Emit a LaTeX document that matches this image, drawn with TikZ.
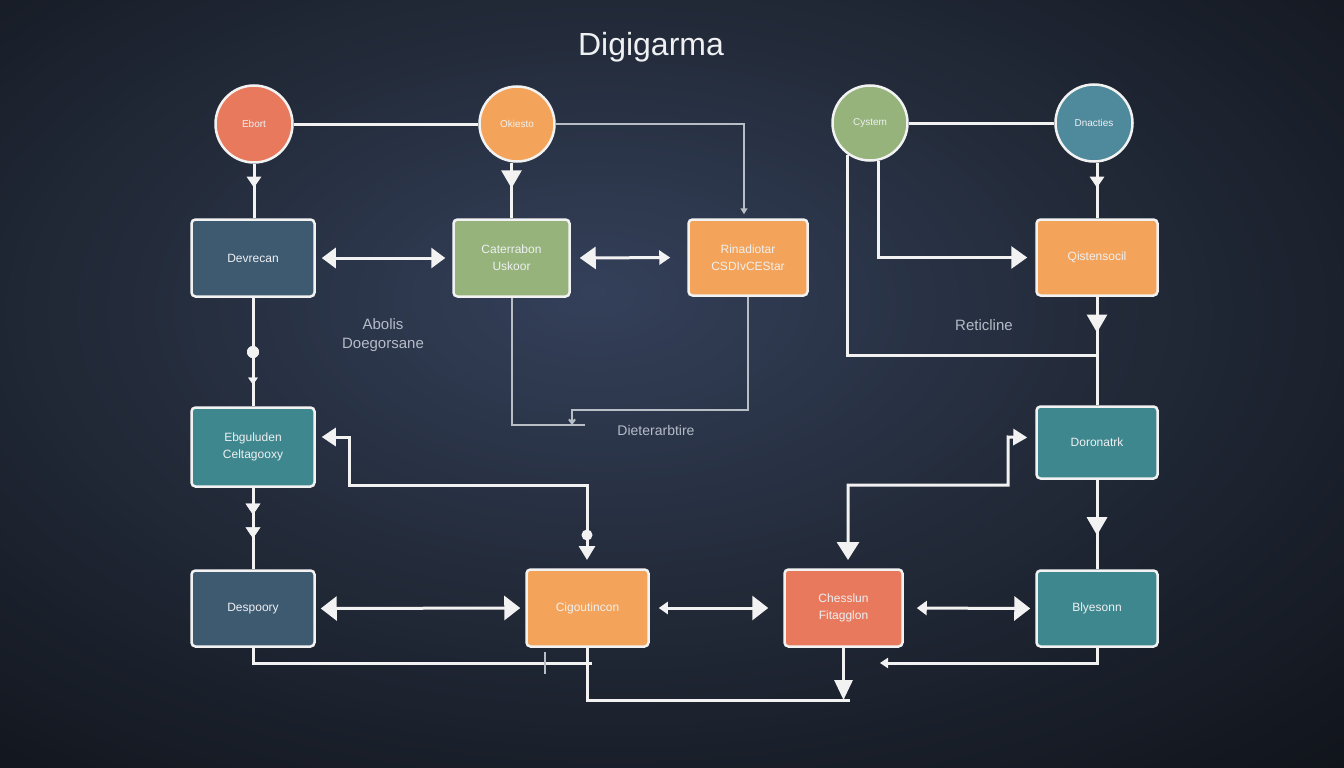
\documentclass[tikz,border=0pt]{standalone}
\usepackage{fontspec}
\setmainfont{Liberation Sans}
\usetikzlibrary{arrows.meta,decorations.markings}
\definecolor{bgin}{HTML}{34405A}
\definecolor{bgmid}{HTML}{232B3A}
\definecolor{bgout}{HTML}{0E1117}
\definecolor{ccoral}{HTML}{E8795D}
\definecolor{corange}{HTML}{F4A45A}
\definecolor{cgreen}{HTML}{95B37B}
\definecolor{cblue}{HTML}{4F8A9C}
\definecolor{cslate}{HTML}{3E5A71}
\definecolor{cteal}{HTML}{3F878E}
\definecolor{txt}{HTML}{EEF0F2}
\definecolor{lbl}{HTML}{B4BCC8}
\definecolor{wire}{HTML}{F2F2F2}
\definecolor{gwire}{HTML}{B8BEC6}
\pgfdeclareradialshading{bgshade}{\pgfpoint{-3bp}{6bp}}{color(0bp)=(bgin); color(18bp)=(bgmid); color(42bp)=(bgout); color(100bp)=(bgout)}
\begin{document}
\begin{tikzpicture}[x=1pt,y=-1pt,
  circ/.style={circle, draw=wire, line width=2.5pt, inner sep=0pt, text=txt, font=\fontsize{10}{12}\selectfont},
  box/.style={rectangle, rounded corners=4pt, draw=wire, line width=2.5pt, inner sep=0pt, text=txt, align=center, font=\fontsize{12}{17}\selectfont},
  lab/.style={text=lbl, align=center, font=\fontsize{15}{19}\selectfont},
  wr/.style={draw=wire, line width=3pt},
  gw/.style={draw=gwire, line width=2pt},
  bigtip/.style={Triangle[width=22pt,length=15pt]},
  midarrow/.style={postaction={decorate}, decoration={markings, mark=at position #1 with {\arrow{Triangle[width=14pt,length=11pt]}}}},
  midbig/.style={postaction={decorate}, decoration={markings, mark=at position #1 with {\arrow{Triangle[width=20pt,length=18pt]}}}},
  midsmall/.style={postaction={decorate}, decoration={markings, mark=at position #1 with {\arrow{Triangle[width=9pt,length=7pt]}}}},
  middot/.style={postaction={decorate}, decoration={markings, mark=at position #1 with {\fill[wire] (0,0) circle (6pt);}}}
]
\useasboundingbox (0,0) rectangle (1344,768);
\shade[shading=bgshade] (0,0) rectangle (1344,768);

\node[text=txt, font=\fontsize{32}{36}\selectfont] (title) at (651,47) {Digigarma};

% circles
\node[circ, fill=ccoral, minimum size=77pt] (C1) at (254,124) {Ebort};
\node[circ, fill=corange, minimum size=75pt] (C2) at (517,124) {Okiesto};
\node[circ, fill=cgreen, minimum size=75pt] (C3) at (870,123) {Cystem};
\node[circ, fill=cblue, minimum size=77pt] (C4) at (1094,123) {Dnacties};

% boxes
\node[box, fill=cslate, minimum width=123pt, minimum height=77pt] (B1) at (253,258) {Devrecan};
\node[box, fill=cgreen, minimum width=116pt, minimum height=77pt] (B2) at (511.5,258) {Caterrabon\\Uskoor};
\node[box, fill=corange, minimum width=119pt, minimum height=76pt] (B3) at (748,257.5) {Rinadiotar\\CSDIvCEStar};
\node[box, fill=corange, minimum width=121pt, minimum height=76pt] (B4) at (1097,257.5) {Qistensocil};
\node[box, fill=cteal, minimum width=123pt, minimum height=79pt] (B5) at (253,447) {Ebguluden\\Celtagooxy};
\node[box, fill=cteal, minimum width=121pt, minimum height=72pt] (B6) at (1097,442.5) {Doronatrk};
\node[box, fill=cslate, minimum width=123pt, minimum height=76pt] (B7) at (253,608.5) {Despoory};
\node[box, fill=corange, minimum width=122pt, minimum height=77pt] (B8) at (587.5,608) {Cigoutincon};
\node[box, fill=ccoral, minimum width=118pt, minimum height=77pt] (B9) at (843.5,608) {Chesslun\\Fitagglon};
\node[box, fill=cteal, minimum width=121pt, minimum height=76pt] (B10) at (1097,608.5) {Blyesonn};

% labels
\node[lab] (L1) at (383,335) {Abolis\\Doegorsane};
\node[lab, font=\fontsize{14}{18}\selectfont] (L2) at (656,430) {Dieterarbtire};
\node[lab] (L3) at (984,325) {Reticline};

% helper coordinates
\coordinate (j1) at (1097,355);
\coordinate (j2) at (572,425);
\coordinate (j3) at (572,410);
\coordinate (k1) at (349,437);
\coordinate (k2) at (349,485);
\coordinate (k3) at (587,485);
\coordinate (k4) at (587,560);
\coordinate (m1) at (1008,437);
\coordinate (m2) at (1008,485);
\coordinate (m3) at (848,485);
\coordinate (m4) at (848,560);
\coordinate (n1) at (592,663);
\coordinate (n2) at (850,700);
\coordinate (n3) at (880,663);

% top row
\draw[wr] (C1.east) -- (C2.west);
\draw[wr] (C3.east) -- (C4.west);
\draw[gw, -{Triangle[width=7pt,length=6pt]}] (C2.east) -| ([xshift=-4pt,yshift=4pt]B3.north);
\draw[wr, midarrow=0.44] (C1.south) -- (C1.south |- B1.north);
\draw[wr, midbig=0.46] (B2.north |- C2.south) -- (B2.north);
\draw[wr, midarrow=0.45] (B4.north |- C4.south) -- (B4.north);

% second row horizontals
\draw[wr, {Triangle[width=20pt,length=14pt]}-{Triangle[width=20pt,length=14pt]}, shorten <=6pt, shorten >=7pt] (B1.east) -- (B2.west);
\draw[wr, {Triangle[width=22pt,length=16pt]}-{Triangle[width=14pt,length=11pt]}, shorten <=9pt, shorten >=17pt] (B2.east) -- (B3.west);
\draw[wr, -{Triangle[width=22pt,length=16pt]}, shorten >=8pt] (C3.283) |- (B4.west);
\draw[wr] (C3.235) |- (j1);
\draw[wr, midbig=0.33] (B4.south) -- (B6.north);

% left column
\draw[wr, middot=0.5, midsmall=0.8] (B1.south) -- (B5.north);
\draw[wr, midarrow=0.33, midarrow=0.62] (B5.south) -- (B7.north);

% center grey lines
\draw[gw] (B2.south) |- (j2) -- ++(13,0);
\draw[gw, -{Straight Barb[length=4pt,width=6pt]}] (B3.south) |- (j3) -- (j2);

% B5 <-> B8
\draw[wr, {Triangle[width=18pt,length=14pt]}-{Triangle[width=16pt,length=14pt]}] ([xshift=6pt,yshift=10pt]B5.east) -- (k1) -- (k2) -- (k3) -- (k4);
\fill[wire] (587,535) circle (5.5pt);

% B9 <-> B6
\draw[wr, {Triangle[width=22pt,length=18pt]}-{Triangle[width=16pt,length=14pt]}] (m4) -- (m3) -- (m2) -- (m1) -- ([xshift=-8pt,yshift=5pt]B6.west);
\draw[wr, midbig=0.62] (B6.south) -- (B10.north);

% bottom row
\draw[wr, {Triangle[width=24pt,length=16pt]}-{Triangle[width=24pt,length=16pt]}, shorten <=5pt, shorten >=5pt] (B7.east) -- (B8.west);
\draw[wr, {Triangle[width=12pt,length=9pt]}-{Triangle[width=24pt,length=16pt]}, shorten <=9pt, shorten >=15pt] (B8.east) -- (B9.west);
\draw[wr, {Triangle[width=14pt,length=10pt]}-{Triangle[width=24pt,length=16pt]}, shorten <=13pt, shorten >=5pt] (B9.east) -- (B10.west);

\draw[wr] (B7.south) |- (n1);
\draw[gw] (545,652) -- (545,674);
\draw[wr] (B8.south) |- (n2);
\draw[wr, -{Triangle[width=18pt,length=20pt]}] (B9.south) -- (B9.south |- n2);
\draw[wr, -{Triangle[width=10pt,length=8pt]}] (B10.south) |- (n3);
\end{tikzpicture}
\end{document}
